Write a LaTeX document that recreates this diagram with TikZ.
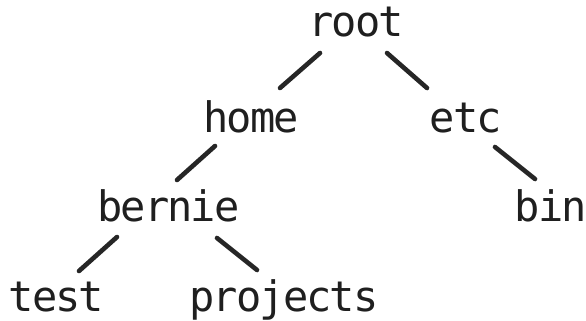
\documentclass[tikz,border=0pt]{standalone}
\usepackage{fontspec}
\newfontfamily\treefont[LetterSpace=-4.5]{DejaVu Sans Mono}
\begin{document}
\begin{tikzpicture}[x=1pt,y=-1pt,
  dir/.style={anchor=base,inner sep=0pt,text=black!88,font=\treefont\fontsize{42}{42}\selectfont},
  edge/.style={line width=4.6pt,line cap=round,draw=black!85}]
\useasboundingbox[fill=white] (0,0) rectangle (586,321);
\node[dir] (root) at (356,37) {root};
\node[dir] (home) at (251,132) {home};
\node[dir] (etc) at (466,132) {etc};
\node[dir] (bernie) at (168.5,221) {bernie};
\node[dir] (bin) at (551,221) {bin};
\node[dir] (test) at (56.5,311) {test};
\node[dir] (projects) at (284,311) {projects};
\draw[edge] ([shift={(-36,16)}]root.base) -- ([shift={(29,-44)}]home.base);
\draw[edge] ([shift={(31,16)}]root.base) -- ([shift={(-39,-44)}]etc.base);
\draw[edge] ([shift={(-36,14)}]home.base) -- ([shift={(8.5,-41)}]bernie.base);
\draw[edge] ([shift={(29,15)}]etc.base) -- ([shift={(-16,-42)}]bin.base);
\draw[edge] ([shift={(-51.5,16)}]bernie.base) -- ([shift={(22.5,-40)}]test.base);
\draw[edge] ([shift={(48.5,17)}]bernie.base) -- ([shift={(-27,-41)}]projects.base);
\end{tikzpicture}
\end{document}
